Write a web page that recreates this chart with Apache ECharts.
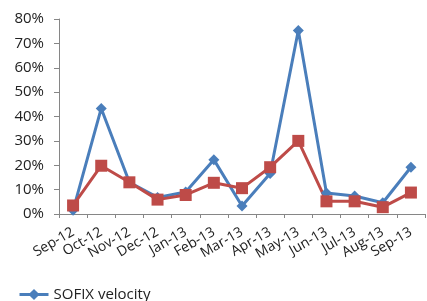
<!DOCTYPE html>
<html>
<head>
<meta charset="utf-8">
<script src="https://cdn.jsdelivr.net/npm/echarts@6/dist/echarts.min.js"></script>
<style>
  html, body { margin: 0; padding: 0; background: #fff; }
  #chart { width: 427px; height: 301px; }
</style>
</head>
<body>
<div id="chart"></div>
<script>
  var months = ['Sep-12', 'Oct-12', 'Nov-12', 'Dec-12', 'Jan-13', 'Feb-13', 'Mar-13',
    'Apr-13', 'May-13', 'Jun-13', 'Jul-13', 'Aug-13', 'Sep-13']
  var sofixVelocity = [1.5, 43.3, 13, 6.8, 9, 22.3, 3.3, 16.6, 75.3, 8.6, 7.4, 4.6, 19.2]
  var otherSeries = [3.5, 19.8, 13, 5.9, 7.8, 12.8, 10.6, 19.2, 30, 5.2, 5.2, 2.8, 8.8]
  var yTicks = { min: 0, max: 80, step: 10 }

  var chart = echarts.init(document.getElementById('chart'))
  var font = 'Open Sans'
  chart.setOption({
    animation: false,
    grid: {
      left: 59,
      right: 2,
      top: 19,
      bottom: 87
    },
    legend: {
      data: ['SOFIX velocity'],
      left: 13,
      top: 282,
      itemWidth: 29,
      itemHeight: 14,
      itemGap: 2,
      lineStyle: { width: 3 },
      textStyle: { fontFamily: font, fontSize: 15, color: '#222' }
    },
    xAxis: {
      type: 'category',
      data: months,
      boundaryGap: true,
      axisLine: { lineStyle: { color: '#868686', width: 1 } },
      axisTick: { show: true, length: 4, lineStyle: { color: '#868686' } },
      axisLabel: {
        rotate: 30,
        interval: 0,
        margin: 17,
        fontFamily: font,
        fontSize: 14,
        color: '#222'
      }
    },
    yAxis: {
      type: 'value',
      min: yTicks.min,
      max: yTicks.max,
      interval: yTicks.step,
      splitLine: { show: false },
      axisLine: { show: true, lineStyle: { color: '#868686', width: 1 } },
      axisTick: { show: true, length: 5, lineStyle: { color: '#868686' } },
      axisLabel: {
        formatter: '{value}%',
        margin: 15,
        fontFamily: font,
        fontSize: 15,
        color: '#222'
      }
    },
    series: [{
      name: 'SOFIX velocity',
      type: 'line',
      data: sofixVelocity,
      symbol: 'diamond',
      symbolSize: 11,
      lineStyle: { color: '#4A7EBB', width: 3 },
      itemStyle: { color: '#4A7EBB' }
    }, {
      name: 'Other',
      type: 'line',
      data: otherSeries,
      symbol: 'rect',
      symbolSize: 12,
      lineStyle: { color: '#BE4B48', width: 3 },
      itemStyle: { color: '#BE4B48' }
    }]
  })
</script>
</body>
</html>
